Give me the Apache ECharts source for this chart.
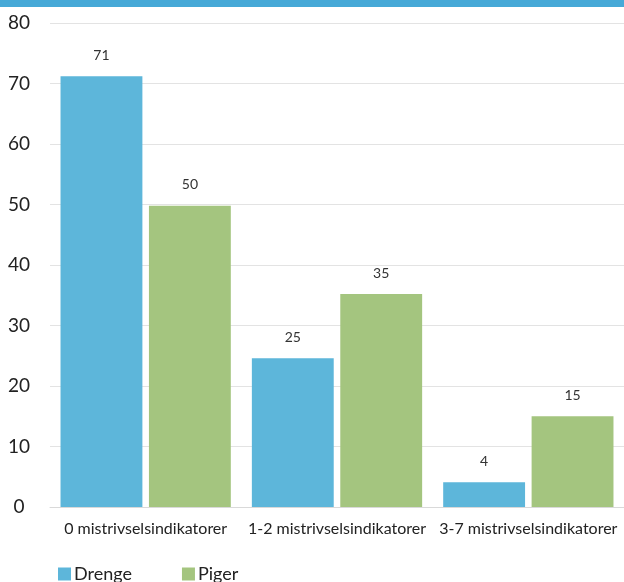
<!DOCTYPE html>
<html>
<head>
<meta charset="utf-8">
<script src="https://cdn.jsdelivr.net/npm/echarts@6/dist/echarts.min.js"></script>
<style>html,body{margin:0;padding:0;background:#fff}#c{width:624px;height:582px}</style>
</head>
<body>
<div id="c"></div>
<script>
const categories = ['0 mistrivselsindikatorer', '1-2 mistrivselsindikatorer', '3-7 mistrivselsindikatorer'];
const drenge = [71.2, 24.6, 4.1];
const piger = [49.8, 35.2, 15.0];
const seriesNames = ['Drenge', 'Piger'];
const yTicks = [0, 10, 20, 30, 40, 50, 60, 70, 80];

const FONT = 'Lato';
const chart = echarts.init(document.getElementById('c'), null, {renderer: 'canvas'});
const labelCfg = {
  show: true, position: 'top', distance: 14,
  fontFamily: FONT, fontSize: 14, color: '#333',
  formatter: p => Math.round(p.value)
};
chart.setOption({
  animation: false,
  textStyle: {fontFamily: FONT},
  graphic: [{type: 'rect', shape: {x: 0, y: 0, width: 624, height: 7}, style: {fill: '#46A9D7'}}],
  legend: {
    left: 53, top: 560, itemWidth: 13, itemHeight: 13, itemGap: 50,
    icon: 'rect',
    textStyle: {fontFamily: FONT, fontSize: 18, color: '#222', padding: [0, 0, 0, -2]},
    data: seriesNames
  },
  grid: {left: 50, top: 23, width: 578, height: 484, containLabel: false},
  xAxis: {
    type: 'category', data: categories,
    axisLine: {show: true, lineStyle: {color: '#d9d9d9', width: 1}},
    axisTick: {show: false},
    axisLabel: {fontFamily: FONT, fontSize: 16, color: '#222', margin: 14, interval: 0}
  },
  yAxis: {
    type: 'value', min: yTicks[0], max: yTicks[yTicks.length - 1], interval: 10,
    axisLine: {show: false}, axisTick: {show: false},
    splitLine: {lineStyle: {color: '#e3e3e3', width: 1}},
    axisLabel: {fontFamily: FONT, fontSize: 19, color: '#222', align: 'center', margin: 31}
  },
  series: [
    {name: seriesNames[0], type: 'bar', data: drenge, itemStyle: {color: '#5DB6DA'},
     barGap: '8%', barCategoryGap: '11%', label: labelCfg},
    {name: seriesNames[1], type: 'bar', data: piger, itemStyle: {color: '#A4C57F'},
     label: labelCfg}
  ]
});
</script>
</body>
</html>
